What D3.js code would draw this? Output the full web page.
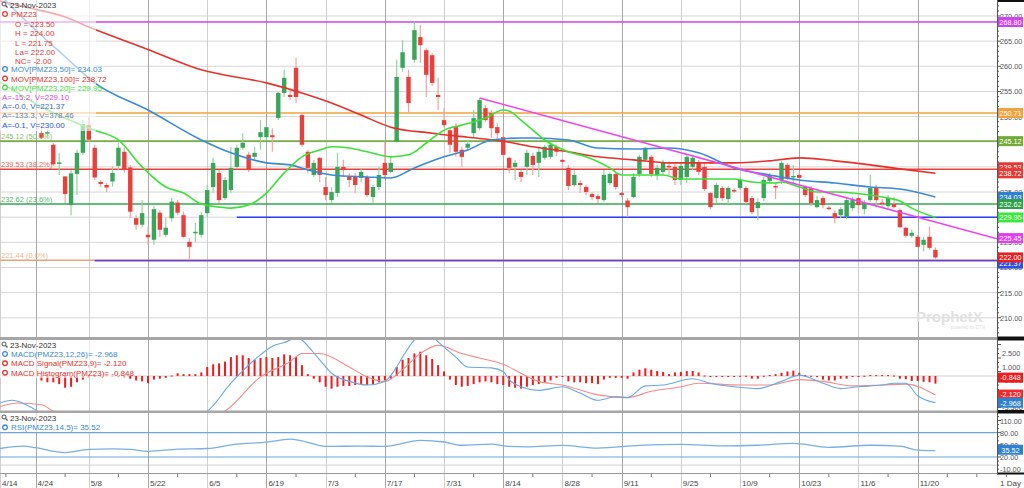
<!DOCTYPE html>
<html><head><meta charset="utf-8">
<script src="https://cdn.jsdelivr.net/npm/d3@7"></script>
<style>body{margin:0;background:#fff}svg{display:block;font-family:"Liberation Sans",Arial,sans-serif}</style>
</head><body><svg id="c" width="1024" height="488"></svg>
<script>
// ---------------- DATA ----------------
const holidays = ["2023-05-01"];
const tickLabels = ["4/14","4/24","5/8","5/22","6/5","6/19","7/3","7/17","7/31","8/14","8/28","9/11","9/25","10/9","10/23","11/6","11/20"];
const darkTicks = ["4/24","5/22","6/19","7/17","8/14","9/11","10/23","11/20"];
const candleStart = "4/25";
const open  = [246.7,246.7,244.4,240.6,238.1,232.4,238.6,242.8,248.3,243.8,237.0,236.4,237.1,240.2,243.0,239.9,229.8,228.5,226.5,225.5,230.9,226.5,229.8,232.9,230.4,225.1,226.8,226.5,230.8,236.0,238.8,233.8,235.4,240.0,243.8,242.4,242.0,245.9,245.9,246.3,249.7,254.7,254.3,259.7,250.3,243.0,238.4,241.8,236.0,233.4,234.8,240.0,238.0,238.0,237.8,238.0,234.0,236.0,240.8,239.0,245.0,259.7,257.9,261.3,265.8,263.2,262.2,254.3,249.3,247.3,247.9,243.4,243.8,246.7,247.7,251.7,250.7,247.9,245.9,241.8,240.0,239.0,240.0,242.2,240.8,241.8,242.0,244.0,241.4,239.8,236.4,236.8,236.0,234.6,234.2,233.4,236.8,238.6,234.8,233.3,234.0,238.6,241.4,242.0,238.4,239.0,240.2,240.0,237.4,238.0,240.0,240.8,240.0,234.8,233.8,235.8,233.6,235.4,235.8,235.8,233.8,231.8,233.8,237.2,236.2,237.4,240.4,238.0,238.4,236.0,235.8,232.0,233.8,231.9,230.8,230.4,230.0,231.8,233.8,231.6,233.4,236.0,232.9,232.2,232.6,231.4,227.9,226.3,226.1,224.5,226.1,223.5];
const high  = [247.7,247.5,244.8,242.8,238.2,239.4,243.4,249.3,249.9,244.4,237.4,236.8,240.1,244.8,243.8,240.4,230.4,233.4,228.1,232.2,231.4,229.9,233.8,233.4,231.1,225.9,228.9,231.0,236.4,241.8,239.4,238.0,244.0,244.4,246.7,243.0,244.0,249.3,248.3,247.7,254.9,259.3,255.3,261.7,250.7,243.4,241.4,242.0,238.0,236.0,242.8,241.4,238.8,238.8,239.8,238.4,236.4,240.0,245.0,242.0,261.3,265.2,259.3,268.8,268.2,263.6,262.6,257.7,251.7,247.9,248.7,244.0,245.4,251.3,253.7,252.3,251.3,248.7,246.7,242.0,241.4,239.4,243.4,242.8,244.0,244.4,244.8,244.4,241.6,240.4,239.4,237.4,236.4,235.0,234.6,239.4,239.0,239.0,235.0,233.8,238.8,242.4,244.0,242.4,240.4,241.4,241.0,240.6,241.0,242.4,242.4,241.4,240.6,235.0,236.8,236.2,236.2,235.8,238.0,236.2,234.2,233.8,238.0,238.8,236.8,241.2,240.8,240.4,238.8,236.4,236.2,234.2,234.2,232.2,231.4,232.0,233.8,234.0,234.4,233.4,238.4,236.4,233.6,234.4,234.0,231.8,228.1,227.5,226.5,226.1,228.1,224.0];
const low   = [245.5,246.3,240.2,238.4,232.8,230.4,234.4,242.4,245.0,237.4,236.0,235.0,236.1,239.4,238.8,229.8,227.5,227.9,224.5,224.5,226.1,226.1,229.1,230.4,225.9,221.5,225.1,225.9,230.1,234.8,232.8,233.4,234.8,239.8,243.4,239.0,241.4,243.4,245.4,243.0,249.3,253.9,253.3,252.7,244.0,238.8,238.0,237.0,233.4,232.8,234.0,238.0,236.0,234.8,237.0,234.0,232.8,235.4,237.8,238.8,244.8,258.9,250.9,260.7,260.7,253.9,256.1,251.3,247.7,242.8,242.0,240.0,243.4,245.9,247.3,248.9,245.8,245.4,242.0,238.8,237.4,237.0,238.4,238.4,238.0,241.4,241.6,242.2,240.0,235.4,236.0,234.8,234.4,233.4,232.8,233.0,236.4,235.4,234.0,230.0,233.8,238.0,241.0,238.0,237.4,238.4,238.4,236.4,236.4,236.8,239.4,238.4,235.2,231.6,232.8,233.2,232.6,234.8,235.4,232.6,230.6,229.4,233.2,236.8,233.6,236.6,237.4,236.8,237.4,234.0,232.2,231.8,231.8,231.4,228.8,229.8,229.6,231.2,230.8,230.6,233.0,232.0,232.0,231.8,231.8,227.9,225.9,225.9,224.0,223.2,223.5,221.75];
const close = [245.8,246.9,240.5,240.9,234.6,238.7,242.8,248.5,245.4,237.9,236.6,235.9,238.8,243.8,239.4,231.1,228.5,230.8,226.0,231.6,227.5,227.9,233.1,230.9,226.1,224.1,227.1,230.4,235.4,240.8,233.4,237.4,239.8,243.8,244.8,239.4,242.8,246.9,247.9,245.9,254.7,257.7,253.9,253.9,244.4,239.8,240.8,238.4,234.4,235.0,240.0,239.4,237.4,236.4,239.0,234.4,236.0,238.4,238.4,240.8,257.9,262.8,252.7,267.2,264.2,258.3,256.7,253.9,248.3,244.4,243.0,242.0,244.6,249.7,253.3,249.3,247.7,246.7,242.4,239.8,240.8,238.0,242.8,240.4,243.0,244.0,244.4,243.0,241.0,236.2,238.4,236.4,235.0,234.0,233.6,238.4,238.6,236.0,234.4,232.0,238.0,242.0,243.8,238.6,239.8,240.8,240.0,237.4,240.2,242.0,241.8,239.0,235.6,232.0,236.4,233.8,235.8,235.2,237.4,233.0,231.0,233.0,237.4,238.4,236.0,240.8,237.8,238.2,237.8,234.4,232.8,233.4,232.4,231.7,229.8,231.6,233.4,233.4,232.4,232.8,235.8,233.4,232.6,233.8,232.0,228.0,226.3,226.9,224.1,225.5,223.9,222.0];
// moving averages: [trading-day index, value]
const mov100 = [[0,273.0],[5,271.6],[11,269.8],[15,267.8],[24,263.8],[34,259.3],[45,256.7],[51,254.7],[56,252.7],[61,250.3],[66,247.9],[73,246.7],[79,245.9],[85,245.1],[90,244.0],[96,243.0],[101,242.0],[107,241.4],[113,240.8],[118,240.8],[124,240.8],[130,241.2],[135,241.8],[141,241.2],[147,240.4],[152,239.6],[158,238.72]];
const mov50 = [[0,274.2],[3,270.6],[11,261.9],[16,256.7],[25,251.3],[34,245.35],[39,242.8],[45,240.8],[49,240.4],[52,239.4],[56,238.4],[62,238.0],[66,237.8],[70,239.8],[75,242.0],[79,243.35],[83,245.35],[88,245.75],[90,245.75],[96,245.35],[101,243.75],[107,243.55],[113,243.75],[118,242.8],[124,239.8],[130,238.4],[135,237.4],[141,236.8],[147,236.0],[152,235.6],[158,234.03]];
const mov20 = [[0,256.9],[8,251.3],[16,247.3],[20,245.35],[24,240.0],[28,236.0],[31,234.8],[34,232.6],[37,232.0],[39,231.8],[42,232.4],[45,234.8],[48,238.8],[51,242.0],[54,243.35],[56,244.0],[59,243.75],[62,243.0],[66,242.0],[69,242.4],[72,244.75],[75,247.3],[78,248.3],[82,249.7],[85,251.3],[86,251.1],[88,249.3],[90,247.3],[92,245.35],[96,243.0],[99,242.0],[103,239.8],[105,238.4],[108,238.4],[112,238.4],[115,237.6],[118,237.6],[124,237.6],[127,237.0],[131,236.8],[132,237.0],[135,236.0],[138,235.0],[141,235.0],[144,234.8],[147,234.4],[149,234.0],[152,233.2],[154,231.8],[158,229.95]];
// fibonacci levels and drawn lines
const fibLevels = [268.80, 250.71, 245.12, 239.53, 232.62, 221.44];
const fibPct = ["100.0%","61.8%","50.0%","38.2%","23.6%","0.0%"];
const trendLine = [[81,253.7],[168.4,225.7]];
const hLine230 = [[40,230.00],[168.4,230.00]];
const hLine221 = [[16,221.37],[168.4,221.37]];
// MACD
const macdLine = [[0,-3.0],[2,-2.7],[3,-2.8],[5,-3.4],[8,-4.5],[20,-6],[30,-5],[35,-3.9],[39,-0.8],[43,1.8],[46,3.3],[49,4.0],[50,4.5],[51,4.0],[54,1.8],[56,0.3],[59,-0.6],[62,-1.0],[65,-0.6],[67,1.0],[68,2.1],[70,4.0],[72,5.0],[74,3.8],[77,2.1],[79,1.0],[83,0.9],[85,0.5],[86,-0.4],[88,-1.2],[91,-1.6],[95,-1.2],[98,-1.9],[101,-2.7],[104,-2.3],[106,-2.4],[109,-1.1],[112,-1.0],[117,-0.3],[120,-0.8],[124,-1.2],[128,-1.4],[132,-0.6],[135,0.1],[139,-0.8],[142,-1.4],[145,-1.2],[149,-1.0],[151,-0.8],[153,-0.8],[155,-2.2],[158,-2.968]];
const macdSignal = [[0,-3.4],[3,-3.0],[7,-3.2],[9,-3.9],[12,-4.6],[25,-5.5],[33,-5],[38,-3.9],[44,-0.1],[49,1.6],[51,2.5],[54,2.5],[59,1.0],[62,-0.1],[65,-0.6],[68,0.7],[71,2.5],[74,3.4],[78,2.5],[81,2.0],[85,1.3],[88,0.3],[91,-0.6],[95,-1.0],[101,-2.1],[106,-2.4],[110,-1.7],[115,-1.2],[118,-0.8],[125,-1.0],[130,-1.0],[135,-0.4],[139,-0.6],[144,-1.1],[149,-1.0],[153,-0.9],[158,-2.12]];
const macdHist = [-0.5,-0.7,-0.7,-0.9,-1.3,-1.2,-0.7,-0.4,-0.2,-0.1,0.05,0.1,0.05,-0.1,-0.2,-0.3,-0.5,-0.6,-0.8,-0.4,-0.3,-0.2,0.05,0.3,0.2,0.2,0.2,0.4,1.0,1.3,1.4,1.6,2.1,2.3,2.3,2.0,1.8,2.0,2.1,2.0,2.1,2.4,2.3,2.1,1.2,0.2,-0.3,-0.7,-1.2,-1.4,-1.2,-1.1,-1.1,-1.0,-0.9,-1.0,-0.9,-0.7,-0.5,-0.3,1.0,1.8,2.0,2.5,2.7,2.3,1.9,1.2,0.5,-0.4,-1.0,-1.2,-1.1,-0.9,-0.7,-0.6,-0.7,-0.9,-1.0,-1.2,-1.3,-1.4,-1.2,-1.0,-0.9,-0.7,-0.5,-0.2,-0.1,-0.6,-0.7,-0.7,-0.8,-0.8,-0.9,-0.4,-0.2,-0.2,-0.2,-0.3,0.4,0.7,0.85,0.7,0.55,0.45,0.2,0.4,0.45,0.55,0.55,0.4,0.05,-0.05,-0.05,-0.05,-0.05,-0.1,0.02,0.02,-0.3,-0.3,0.02,0.1,0.2,0.35,0.5,0.6,0.35,0.1,0.02,-0.1,-0.4,-0.5,-0.5,-0.3,-0.3,-0.1,-0.02,0.02,0.1,0.1,0.1,0.1,0.05,-0.3,-0.35,-0.55,-0.55,-0.65,-0.7,-0.848];
// RSI
const rsi = [[0,41],[4,47],[6,43],[11,31],[15,39],[19,40],[22,39],[25,34],[30,39.5],[35,41],[40,52],[45,56.6],[49,64],[51,60],[55,46],[61,47],[65,46],[71,61],[75,57],[78,49],[83,52],[86,46],[89,45],[95,48.5],[101,42],[108,48.5],[115,51],[122,47.6],[128,49],[134,53.4],[140,44],[147,49],[152,47],[155,37],[158,35.52]];
const priceTicks = [270,265,260,255,250,245,240,235,230,225,220,215,210];
const macdTicks = [2.5,1.0,-0.5,-2.0,-3.5];
const rsiTicks = [110,80,50,20,-10];

// ---------------- LAYOUT ----------------
const AX = 997;
const svg = d3.select("#c");
const fmtISO = d3.timeFormat("%Y-%m-%d"), fmtKey = d3.timeFormat("%-m/%-d");
const days = [], weekday = [];
for (let d = new Date(2023,3,14); days.length < 175; d = d3.timeDay.offset(d,1)) {
  const wd = d.getDay();
  if (wd===0 || wd===6 || holidays.includes(fmtISO(d))) continue;
  days.push(fmtKey(d)); weekday.push(wd);
}
const idx = k => days.indexOf(k);
const x = d3.scaleLinear().domain([0,168.4]).range([0,AX]);
const yP = d3.scaleLinear().domain([206.18,273.18]).range([337,0]);
const yM = d3.scaleLinear().domain([-3.89,4.11]).range([411,339]);
const yR = d3.scaleLinear().domain([-19.5,131.1]).range([473,412]);
const c0 = idx(candleStart);
const candles = open.map((o,k)=>({i:c0+k,o,h:high[k],l:low[k],c:close[k]}));

const defs = svg.append("defs");
[["cp",0,0,AX,337],["cm",0,339,AX,72],["cr",0,413,AX,60]].forEach(([id,a,b,w,h])=>
  defs.append("clipPath").attr("id",id).append("rect").attr("x",a).attr("y",b).attr("width",w).attr("height",h));

// horizontal gridlines
const g0 = svg.append("g");
g0.selectAll(".hg").data(priceTicks).join("line").attr("x1",0).attr("x2",AX)
  .attr("y1",d=>yP(d)).attr("y2",d=>yP(d)).attr("stroke","#d6d6d6");
g0.append("line").attr("x1",0).attr("x2",AX).attr("y1",yM(0)).attr("y2",yM(0)).attr("stroke","#d0d0d0");
g0.append("line").attr("x1",0).attr("x2",AX).attr("y1",yR(0)).attr("y2",yR(0)).attr("stroke","#d0d0d0");
// vertical gridlines
g0.selectAll(".vg").data(tickLabels).join("line")
  .attr("x1",d=>Math.round(x(idx(d)))+0.5).attr("x2",d=>Math.round(x(idx(d)))+0.5)
  .attr("y1",0).attr("y2",488).attr("stroke",d=>darkTicks.includes(d)?"#a8a8a8":"#cfcfcf");

// ---------------- PRICE PANEL ----------------
const gp = svg.append("g").attr("clip-path","url(#cp)");
const fibColors = ["#cc44ee","#f2a23c","#79ad45","#e8413c","#33a852","#e6a57a"];
gp.selectAll(".fib").data(fibLevels).join("line").attr("x1",0).attr("x2",AX)
  .attr("y1",d=>yP(d)).attr("y2",d=>yP(d)).attr("stroke",(d,i)=>fibColors[i]).attr("stroke-width",1.6);
const lineXY = d3.line().x(d=>x(d[0])).y(d=>yP(d[1]));
gp.append("path").attr("d",lineXY(hLine221)).attr("stroke","#6a45c8").attr("stroke-width",1.6).attr("fill","none");
gp.append("path").attr("d",lineXY(hLine230)).attr("stroke","#2d3ff0").attr("stroke-width",1.6).attr("fill","none");
// candles
const cg = gp.append("g");
cg.selectAll(".wk").data(candles).join("line")
  .attr("x1",d=>x(d.i)).attr("x2",d=>x(d.i)).attr("y1",d=>yP(d.h)).attr("y2",d=>yP(d.l))
  .attr("stroke",d=>d.c>=d.o?"#94d3a2":"#f4a3a3").attr("stroke-width",1.2);
cg.selectAll(".bd").data(candles).join("rect")
  .attr("x",d=>x(d.i)-2.2).attr("width",4.4)
  .attr("y",d=>yP(Math.max(d.o,d.c))).attr("height",d=>Math.max(1.5,Math.abs(yP(d.o)-yP(d.c))))
  .attr("fill",d=>d.c>=d.o?"#3aa65a":"#e8403c");
const maLine = d3.line().x(d=>x(d[0])).y(d=>yP(d[1])).curve(d3.curveMonotoneX);
[[mov100,"#e8302a"],[mov50,"#3a8ad6"],[mov20,"#3ee03a"]].forEach(([dd,col])=>
  gp.append("path").attr("d",maLine(dd)).attr("fill","none").attr("stroke",col).attr("stroke-width",1.6));
gp.append("path").attr("d",lineXY(trendLine)).attr("stroke","#ee44ee").attr("stroke-width",1.6).attr("fill","none");

// watermark
svg.append("text").attr("x",916).attr("y",322).attr("font-size",15).attr("font-weight","bold")
  .attr("fill","#e2e2e2").text("ProphetX");
svg.append("text").attr("x",951).attr("y",329).attr("font-size",4.5).attr("fill","#e0e0e0").text("powered by DTN");

// fib labels (left)
const fibLab = svg.append("g").attr("font-size",7.5).attr("opacity",0.8);
fibLevels.forEach((v,i)=>{ if(i<2) return;
  fibLab.append("text").attr("x",1).attr("y",yP(v)-2).attr("fill",fibColors[i]).text(v.toFixed(2)+" ("+fibPct[i]+")");
});

// ---------------- MACD PANEL ----------------
const gm = svg.append("g").attr("clip-path","url(#cm)");
const hist = macdHist.map((v,k)=>({i:c0+k,v}));
gm.selectAll(".hb").data(hist).join("rect")
  .attr("x",d=>x(d.i)-1).attr("width",2)
  .attr("y",d=>Math.min(yM(0),yM(d.v))).attr("height",d=>Math.max(1,Math.abs(yM(d.v)-yM(0))))
  .attr("fill","#ee1c1c");
const mLine = d3.line().x(d=>x(d[0])).y(d=>yM(d[1])).curve(d3.curveMonotoneX);
gm.append("path").attr("d",mLine(macdSignal)).attr("fill","none").attr("stroke","#f28b8b").attr("stroke-width",1.1);
gm.append("path").attr("d",mLine(macdLine)).attr("fill","none").attr("stroke","#6aa8e0").attr("stroke-width",1.1);

// ---------------- RSI PANEL ----------------
const gr = svg.append("g").attr("clip-path","url(#cr)");
[80,20].forEach(v=>gr.append("line").attr("x1",0).attr("x2",AX).attr("y1",yR(v)).attr("y2",yR(v)).attr("stroke","#6aa6dc").attr("stroke-width",1.2));
gr.append("path").attr("d",d3.line().x(d=>x(d[0])).y(d=>yR(d[1])).curve(d3.curveMonotoneX)(rsi))
  .attr("fill","none").attr("stroke","#79b0e2").attr("stroke-width",1.3);

// ---------------- SEPARATORS / AXES ----------------
svg.append("rect").attr("x",0).attr("y",337).attr("width",AX).attr("height",3).attr("fill","#a6a6a6");
svg.append("rect").attr("x",0).attr("y",410.5).attr("width",AX).attr("height",2.5).attr("fill","#a6a6a6");
svg.append("line").attr("x1",0).attr("x2",AX).attr("y1",473.5).attr("y2",473.5).attr("stroke","#999");
svg.append("rect").attr("x",AX).attr("y",0).attr("width",27).attr("height",2).attr("fill","#111");
svg.append("rect").attr("x",AX).attr("y",336.5).attr("width",27).attr("height",4).attr("fill","#111");
svg.append("rect").attr("x",AX).attr("y",410).attr("width",27).attr("height",3.5).attr("fill","#111");
svg.append("rect").attr("x",AX).attr("y",472.5).attr("width",27).attr("height",2).attr("fill","#111");
svg.append("line").attr("x1",AX+0.5).attr("x2",AX+0.5).attr("y1",0).attr("y2",474).attr("stroke","#555");

const ax = svg.append("g").attr("font-size",7.3).attr("fill","#555");
// price minor ticks
d3.range(207,273).forEach(v=>ax.append("line").attr("x1",AX).attr("x2",AX+(v%5===0?4:2))
  .attr("y1",yP(v)).attr("y2",yP(v)).attr("stroke","#555"));
priceTicks.forEach(v=>ax.append("text").attr("x",1000).attr("y",yP(v)+3).text(v.toFixed(2)));
d3.range(-3.5,4.0,0.5).forEach(v=>ax.append("line").attr("x1",AX).attr("x2",AX+(Math.abs((v*2)%3)===1?4:2))
  .attr("y1",yM(v)).attr("y2",yM(v)).attr("stroke","#555"));
macdTicks.forEach(v=>ax.append("text").attr("x",1002).attr("y",yM(v)+3).text(v.toFixed(3)));
d3.range(-10,121,10).forEach(v=>ax.append("line").attr("x1",AX).attr("x2",AX+(v%30===20?4:2))
  .attr("y1",yR(v)).attr("y2",yR(v)).attr("stroke","#555"));
rsiTicks.forEach(v=>ax.append("text").attr("x",1000).attr("y",yR(v)+3).text(v.toFixed(2)));

// value boxes
function box(cy,col,txt,tc){
  svg.append("rect").attr("x",AX+1).attr("y",cy-5).attr("width",25).attr("height",10).attr("fill",col);
  svg.append("text").attr("x",AX+13.5).attr("y",cy+2.8).attr("text-anchor","middle").attr("font-size",7.3)
    .attr("fill",tc||"#fff").text(txt);
}
box(yP(268.80),"#cc44ee","268.80");
box(yP(250.71),"#f2a23c","250.71");
box(yP(245.12),"#74aa3a","245.12");
box(yP(239.53)-2,"#e53935","239.53");
box(yP(238.72),"#e53935","238.72");
box(yP(234.03),"#2f80d0","234.03");
box(yP(232.62),"#2ea04a","232.62");
box(yP(229.95),"#3ae83a","229.95");
box(yP(225.45)-2,"#e040f0","225.45");
box(yP(221.37)+3,"#2f4fe0","221.37");
box(yP(222.00),"#e82020","222.00");
box(yM(-0.848)-6,"#ee1c1c","-0.848");
box(yM(-2.120)-0.5,"#ee2a2a","-2.120");
box(yM(-2.968),"#2f80d0","-2.968");
box(yR(35.52)-1,"#2f80d0","35.52");

// date axis
const da = svg.append("g").attr("font-size",8).attr("fill","#444");
days.forEach((d,i)=>{ if((weekday[i]===1 || d==="5/2") && !tickLabels.includes(d))
  da.append("line").attr("x1",x(i)).attr("x2",x(i)).attr("y1",474).attr("y2",477).attr("stroke","#777"); });
tickLabels.forEach(t=>da.append("text").attr("x",x(idx(t))+2).attr("y",486).text(t));
da.append("text").attr("x",1000).attr("y",486).text("1 Day");

// ---------------- LEGENDS ----------------
function backdrop(x0,y0,w,h){ svg.append("rect").attr("x",x0).attr("y",y0).attr("width",w).attr("height",h).attr("fill","#fff").attr("opacity",0.6); }
function mag(cx,cy){ svg.append("circle").attr("cx",cx).attr("cy",cy).attr("r",2).attr("fill","none").attr("stroke","#555").attr("stroke-width",1);
  svg.append("line").attr("x1",cx+1.5).attr("y1",cy+1.5).attr("x2",cx+3.5).attr("y2",cy+3.5).attr("stroke","#555").attr("stroke-width",1.2); }
function gear(cx,cy,col){ svg.append("circle").attr("cx",cx).attr("cy",cy).attr("r",2.3).attr("fill","#fff").attr("stroke",col).attr("stroke-width",1.3); }
function txt(xx,cy,col,t){ svg.append("text").attr("x",xx).attr("y",cy+3).attr("font-size",8).attr("fill",col).text(t); }

backdrop(0,0,96,131);
mag(4,4); txt(10,5,"#333","23-Nov-2023");
gear(5,14,"#e53935"); txt(11,14,"#e53935","PMZ23");
[["O = 223.50",23.5],["H = 224.00",33],["L = 221.75",42.5],["La= 222.00",52],["NC= -2.00",61]].forEach(([t,cy])=>txt(15,cy,"#e53935",t));
gear(5,69,"#3a8ad6"); txt(11,69,"#3a8ad6","MOV[PMZ23,50]= 234.03");
gear(5,78.5,"#e8302a"); txt(11,78.5,"#e8302a","MOV[PMZ23,100]= 238.72");
gear(5,87.5,"#3ee03a"); txt(11,87.5,"#3ee03a","MOV[PMZ23,20]= 229.95");
txt(2,97,"#dd44ee","A=-15.2, V=229.10");
txt(2,106,"#3f63d0","A=-0.0, V=221.37");
txt(2,115,"#6b7fa3","A=-133.3, V=378.46");
txt(2,124.5,"#2d4fe0","A=-0.1, V=230.00");

backdrop(0,340,128,38);
mag(4,344); txt(10,345,"#333","23-Nov-2023");
gear(5,354,"#3a8ad6"); txt(11,354,"#3a8ad6","MACD(PMZ23,12,26)= -2.968");
gear(5,363.3,"#e8302a"); txt(11,363.3,"#e8302a","MACD Signal(PMZ23,9)= -2.120");
gear(5,372.7,"#e8302a"); txt(11,372.7,"#e8302a","MACD Histogram(PMZ23)= -0.848");

backdrop(0,413,92,19);
mag(4,417); txt(10,418,"#333","23-Nov-2023");
gear(5,427.3,"#3a8ad6"); txt(11,427.3,"#3a8ad6","RSI(PMZ23,14,5)= 35.52");
</script></body></html>
